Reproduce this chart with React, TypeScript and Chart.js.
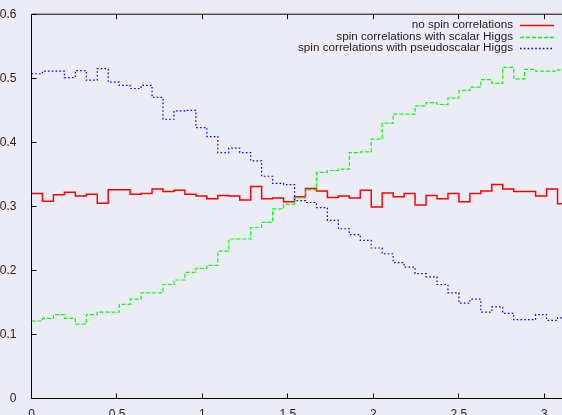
import React, { useEffect, useRef } from "react";
import { Chart, registerables } from "chart.js";

Chart.register(...registerables);

// ---- data ----
const X_MAX = Math.PI;
const BIN_COUNT = 49;
const xTickStep = 0.5;
const yTicks = [0, 0.1, 0.2, 0.3, 0.4, 0.5, 0.6];

const seriesLabels = [
  "no spin correlations",
  "spin correlations with scalar Higgs",
  "spin correlations with pseudoscalar Higgs",
];

const noSpin = [
  0.320, 0.308, 0.318, 0.322, 0.316, 0.319, 0.305, 0.326, 0.326, 0.319,
  0.320, 0.327, 0.323, 0.325, 0.319, 0.316, 0.312, 0.317, 0.316, 0.310,
  0.331, 0.312, 0.313, 0.307, 0.315, 0.328, 0.324, 0.314, 0.316, 0.313,
  0.325, 0.299, 0.321, 0.315, 0.320, 0.302, 0.317, 0.312, 0.320, 0.307,
  0.320, 0.324, 0.334, 0.327, 0.323, 0.323, 0.316, 0.327, 0.304,
];

const scalarHiggs = [
  0.121, 0.125, 0.131, 0.125, 0.116, 0.131, 0.135, 0.135, 0.147, 0.155,
  0.165, 0.165, 0.178, 0.185, 0.197, 0.203, 0.208, 0.230, 0.249, 0.249,
  0.267, 0.275, 0.296, 0.303, 0.313, 0.326, 0.353, 0.356, 0.358, 0.384,
  0.385, 0.405, 0.430, 0.444, 0.444, 0.457, 0.462, 0.459, 0.469, 0.481,
  0.486, 0.498, 0.492, 0.517, 0.499, 0.514, 0.511, 0.511, 0.513,
];

const pseudoscalarHiggs = [
  0.507, 0.511, 0.511, 0.501, 0.512, 0.497, 0.515, 0.494, 0.489, 0.484,
  0.489, 0.470, 0.436, 0.449, 0.450, 0.423, 0.409, 0.384, 0.391, 0.384,
  0.371, 0.347, 0.336, 0.334, 0.309, 0.306, 0.298, 0.278, 0.265, 0.256,
  0.247, 0.235, 0.226, 0.212, 0.205, 0.195, 0.190, 0.178, 0.165, 0.149,
  0.155, 0.135, 0.143, 0.133, 0.123, 0.123, 0.131, 0.122, 0.126,
];

const binEdges = Array.from({ length: BIN_COUNT + 1 }, (_, i) => (i * X_MAX) / BIN_COUNT);
const toSteps = (values: number[]) =>
  binEdges.map((x, i) => ({ x, y: values[Math.min(i, values.length - 1)] }));

// ---- styles ----
const BG = "#ececf6";
const TEXT = "#222222";
const FONT = "Liberation Sans";

const styles = [
  { color: "#ff0000", width: 1.5, dash: [] as number[] },
  { color: "#00ff00", width: 1.2, dash: [4, 2] },
  { color: "#0000ff", width: 1.2, dash: [1.6, 2.2] },
];

const CANVAS_W = 570;
const CANVAS_H = 440;

const framePlugin = {
  id: "gnuplotFrame",
  beforeDraw(chart: any) {
    const ctx = chart.ctx;
    ctx.save();
    ctx.fillStyle = BG;
    ctx.fillRect(0, 0, chart.width, chart.height);
    ctx.restore();
  },
  beforeDatasetsDraw(chart: any) {
    const { ctx, chartArea } = chart;
    const { left, right, top, bottom } = chartArea;
    const xs = chart.scales.x;
    const ys = chart.scales.y;
    ctx.save();
    ctx.strokeStyle = "#000";
    ctx.lineWidth = 1;
    ctx.beginPath();
    ctx.rect(left, top, right - left, bottom - top);
    ctx.stroke();
    const tl = 5;
    ctx.beginPath();
    for (const t of xs.ticks) {
      const px = Math.floor(xs.getPixelForValue(t.value)) + 0.5;
      ctx.moveTo(px, bottom);
      ctx.lineTo(px, bottom - tl);
      ctx.moveTo(px, top);
      ctx.lineTo(px, top + tl);
    }
    for (const t of ys.ticks) {
      const py = Math.floor(ys.getPixelForValue(t.value)) + 0.5;
      ctx.moveTo(left, py);
      ctx.lineTo(left + tl, py);
      ctx.moveTo(right, py);
      ctx.lineTo(right - tl, py);
    }
    ctx.stroke();
    ctx.restore();
  },
  afterDraw(chart: any) {
    const ctx = chart.ctx;
    const textRight = 513;
    const sampleL = 520;
    const sampleR = 554;
    const y0 = 25;
    const dy = 11.5;
    ctx.save();
    ctx.font = `11.7px "${FONT}"`;
    ctx.textAlign = "right";
    ctx.textBaseline = "middle";
    seriesLabels.forEach((label, i) => {
      const y = y0 + i * dy;
      ctx.fillStyle = TEXT;
      ctx.fillText(label, textRight, y);
      const st = styles[i];
      ctx.strokeStyle = st.color;
      ctx.lineWidth = 1.5;
      ctx.setLineDash(st.dash);
      ctx.beginPath();
      ctx.moveTo(sampleL, Math.round(y) + 0.5);
      ctx.lineTo(sampleR, Math.round(y) + 0.5);
      ctx.stroke();
    });
    ctx.restore();
  },
};

export default function App() {
  const ref = useRef<HTMLCanvasElement | null>(null);

  useEffect(() => {
    if (!ref.current) return;
    const seriesValues = [noSpin, scalarHiggs, pseudoscalarHiggs];
    const chart = new Chart(ref.current, {
      type: "line",
      data: {
        datasets: seriesValues.map((vals, i) => ({
          label: seriesLabels[i],
          data: toSteps(vals),
          borderColor: styles[i].color,
          borderWidth: styles[i].width,
          borderDash: styles[i].dash,
          stepped: "before" as const,
          pointRadius: 0,
          fill: false,
          tension: 0,
          order: 3 - i,
        })),
      },
      options: {
        animation: false,
        responsive: false,
        devicePixelRatio: 1,
        layout: { padding: { top: 13.5, right: CANVAS_W - 568.5, left: 0, bottom: 0 } },
        plugins: {
          legend: { display: false },
          tooltip: { enabled: false },
        },
        scales: {
          x: {
            type: "linear",
            min: 0,
            max: X_MAX,
            grid: { display: false },
            border: { display: false },
            ticks: {
              stepSize: xTickStep,
              includeBounds: false,
              padding: 1,
              color: TEXT,
              font: { family: FONT, size: 12 },
              maxRotation: 0,
              autoSkip: false,
              callback: (v: any) => String(Math.round(Number(v) * 10) / 10),
            },
            afterFit: (s: any) => {
              s.height = CANVAS_H - 398.5;
            },
          },
          y: {
            type: "linear",
            min: yTicks[0],
            max: yTicks[yTicks.length - 1],
            grid: { display: false },
            border: { display: false },
            afterBuildTicks: (s: any) => {
              s.ticks = yTicks.map((v) => ({ value: v }));
            },
            ticks: {
              padding: 7,
              color: TEXT,
              font: { family: FONT, size: 12 },
              autoSkip: false,
              callback: (v: any) => String(Math.round(Number(v) * 10) / 10),
            },
            afterFit: (s: any) => {
              s.width = 31.5;
            },
          },
        },
      },
      plugins: [framePlugin],
    });
    return () => chart.destroy();
  }, []);

  return (
    <div
      style={{
        position: "fixed",
        left: 0,
        top: 0,
        width: 562,
        height: 415,
        overflow: "hidden",
        background: BG,
      }}
    >
      <canvas ref={ref} width={CANVAS_W} height={CANVAS_H} style={{ display: "block" }} />
    </div>
  );
}
